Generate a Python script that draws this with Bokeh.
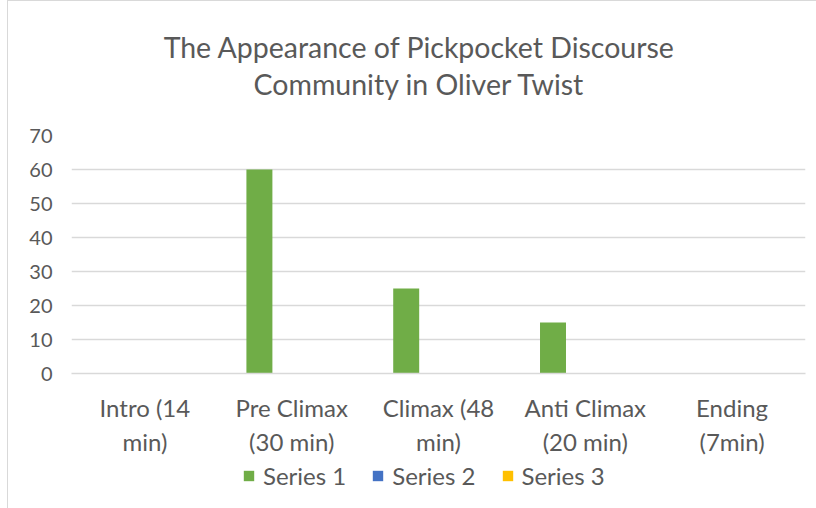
from bokeh.plotting import figure
from bokeh.layouts import column
from bokeh.models import (FactorRange, Range1d, FixedTicker, Title, Legend,
                          LegendItem, ColumnDataSource)
from bokeh.transform import dodge
from bokeh.embed import file_html
from bokeh.resources import INLINE

# ---- data ----
categories = ["Intro (14\nmin)", "Pre Climax\n(30 min)", "Climax (48\nmin)",
              "Anti Climax\n(20 min)", "Ending\n(7min)"]
series_names = ["Series 1", "Series 2", "Series 3"]
series_1 = [0, 60, 25, 15, 0]
series_2 = [0, 0, 0, 0, 0]
series_3 = [0, 0, 0, 0, 0]
y_ticks = [0, 10, 20, 30, 40, 50, 60, 70]
title_lines = ["The Appearance of Pickpocket Discourse",
               "Community in Oliver Twist"]

# ---- styles ----
colors = ["#70AD47", "#4472C4", "#FFC000"]
FONT = "Lato"
TXT = "#595959"
GRID = "#d9d9d9"

source = ColumnDataSource(dict(cat=categories, s1=series_1, s2=series_2, s3=series_3))
keys = ["s1", "s2", "s3"]
offsets = [-0.22, 0.0, 0.22]

p = figure(frame_width=734, frame_height=238, output_backend="svg", toolbar_location=None,
           x_range=FactorRange(factors=categories), y_range=Range1d(0, 70),
           min_border_left=63, min_border_right=12, min_border_top=134,
           min_border_bottom=84)
p.outline_line_color = None

for key, off, col in zip(keys, offsets, colors):
    p.vbar(x=dodge("cat", off, range=p.x_range), top=key, width=0.177,
           source=source, fill_color=col, line_color=None)

p.add_layout(Title(text="\n".join(title_lines), align="center", text_font=FONT,
                   text_font_size="28.5px", text_font_style="normal",
                   text_line_height=1.1, text_align="center",
                   vertical_align="top", padding=dict(left=0, right=38, top=0, bottom=9),
                   text_color=TXT, standoff=48), "above")

p.yaxis.ticker = FixedTicker(ticks=y_ticks)
for ax in (p.xaxis, p.yaxis):
    ax.major_tick_line_color = None
    ax.minor_tick_line_color = None
    ax.major_label_text_font = FONT
    ax.major_label_text_color = TXT
p.xaxis.major_label_text_font_size = "24px"
p.yaxis.major_label_text_font_size = "20px"
p.yaxis.axis_line_color = None
p.yaxis.major_label_standoff = 13
p.xaxis.axis_line_color = GRID
p.xaxis.axis_line_width = 1.4
p.xaxis.major_label_standoff = 13

p.xgrid.grid_line_color = None
p.ygrid.grid_line_color = GRID
p.ygrid.grid_line_width = 1.4

# ---- legend strip: same series, with the bars mapped far outside its visible range ----
q = figure(width=809, height=60, output_backend="svg", toolbar_location=None,
           x_range=FactorRange(factors=categories), y_range=Range1d(1000, 1001),
           min_border_left=0, min_border_right=0, min_border_top=0, min_border_bottom=0)
q.axis.visible = False
q.grid.grid_line_color = None
q.outline_line_color = None
legend_renderers = []
for key, off, col in zip(keys, offsets, colors):
    r = q.vbar(x=dodge("cat", off, range=q.x_range), top=key, width=0.177,
               source=source, fill_color=col, line_color=None)
    legend_renderers.append(r)

legend = Legend(items=[LegendItem(label=n, renderers=[r]) for n, r in zip(series_names, legend_renderers)],
                orientation="horizontal", location=(171, 29),
                border_line_color=None, background_fill_alpha=0,
                label_text_font=FONT, label_text_font_size="24px",
                label_text_color=TXT, glyph_width=13, glyph_height=13,
                label_standoff=8, spacing=25, padding=0, margin=0)
q.add_layout(legend, "center")

layout = column(p, q, spacing=0, margin=(0, 0, 0, 7))
layout.styles = {"border-left": "1px solid #d9d9d9", "border-top": "1px solid #d9d9d9"}

open("out.html", "w").write(file_html(layout, INLINE))
